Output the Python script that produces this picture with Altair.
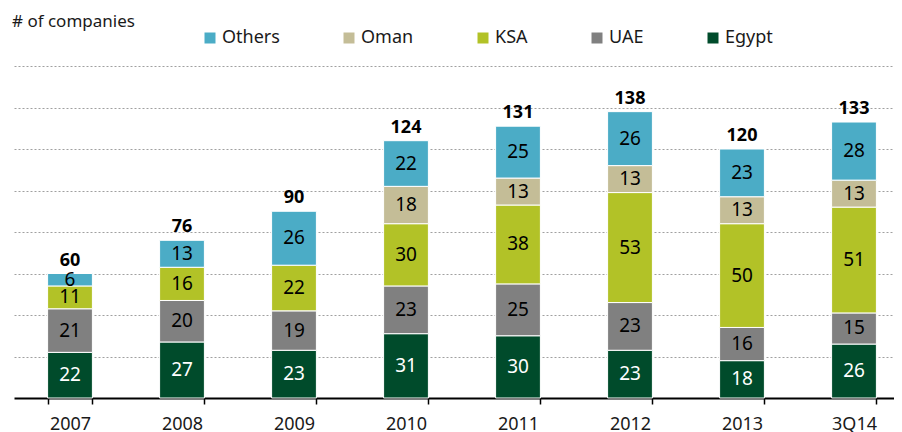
import altair as alt
import pandas as pd

years = ["2007", "2008", "2009", "2010", "2011", "2012", "2013", "3Q14"]
egypt = [22, 27, 23, 31, 30, 23, 18, 26]
uae = [21, 20, 19, 23, 25, 23, 16, 15]
ksa = [11, 16, 22, 30, 38, 53, 50, 51]
oman = [0, 0, 0, 18, 13, 13, 13, 13]
others = [6, 13, 26, 22, 25, 26, 23, 28]
totals = [60, 76, 90, 124, 131, 138, 120, 133]

series_names = ["Egypt", "UAE", "KSA", "Oman", "Others"]
series_vals = [egypt, uae, ksa, oman, others]
legend_order = ["Others", "Oman", "KSA", "UAE", "Egypt"]
colors = {"Others": "#4BACC6", "Oman": "#C4BD97", "KSA": "#B2C227",
          "UAE": "#808080", "Egypt": "#004B2B"}
grid_values = [20, 40, 60, 80, 100, 120, 140, 160]

rows = []
for k, (name, vals) in enumerate(zip(series_names, series_vals)):
    for y, v in zip(years, vals):
        rows.append({"year": y, "region": name, "value": v, "order": k,
                     "txt": "white" if name == "Egypt" else "black"})
df = pd.DataFrame(rows)
tot = pd.DataFrame({"year": years, "total": totals})

FONT = "Noto Sans"
xenc = alt.X("year:N", sort=years, title=None,
             scale=alt.Scale(range=[0, 896], paddingInner=0.6, paddingOuter=0.3),
             axis=alt.Axis(labelAngle=0, labelFontSize=18, labelColor="#1a1a1a",
                           labelFont=FONT, tickBand="extent", tickSize=6,
                           tickColor="black", tickWidth=1.5, domainColor="black",
                           domainWidth=2, labelPadding=11, grid=False))
yscale = alt.Scale(domain=[0, 160], nice=False)

base = alt.Chart(df).transform_filter("datum.value > 0").transform_stack(
    stack="value", groupby=["year"], sort=[alt.SortField("order")], as_=["y0", "y1"]
).transform_calculate(mid="(datum.y0 + datum.y1) / 2")

bars = base.mark_bar(stroke="white", strokeWidth=1).encode(
    x=xenc,
    y=alt.Y("y0:Q", scale=yscale, title=None,
            axis=alt.Axis(values=grid_values, labels=False, ticks=False, domain=False,
                          grid=True, gridColor="#A0A0A0", gridDash=[2, 2], gridWidth=1)),
    y2="y1:Q",
    color=alt.Color("region:N", scale=alt.Scale(domain=legend_order,
                                                range=[colors[r] for r in legend_order]),
                    legend=alt.Legend(title=None, orient="none", legendX=187, legendY=-37,
                                      direction="horizontal", symbolType="square",
                                      symbolSize=121, symbolStrokeWidth=0,
                                      labelFontSize=18, labelFont=FONT,
                                      labelColor="#1a1a1a", labelOffset=3,
                                      columnPadding=60)),
)

seg_labels = base.mark_text(fontSize=19, font=FONT, baseline="middle").encode(
    x=alt.X("year:N", sort=years),
    y=alt.Y("mid:Q", scale=yscale),
    text=alt.Text("value:Q"),
    color=alt.Color("txt:N", scale=None),
)

tot_labels = alt.Chart(tot).mark_text(fontSize=18, font=FONT, fontWeight="bold",
                                      baseline="bottom", dy=-4, color="black").encode(
    x=alt.X("year:N", sort=years),
    y=alt.Y("total:Q", scale=yscale),
    text="total:Q",
)

title = alt.Chart(pd.DataFrame({"t": ["# of companies"]})).mark_text(
    fontSize=17, font=FONT, align="left", baseline="alphabetic", color="#1a1a1a"
).encode(x=alt.value(-2), y=alt.value(-39), text="t:N")

chart = alt.layer(bars, seg_labels, tot_labels, title).properties(
    width=880, height=332,
    autosize=alt.AutoSizeParams(type="none"),
    padding={"left": 6, "top": 58, "right": 0, "bottom": 34},
).configure_view(stroke=None)

chart.save("out.html", embed_options={"renderer": "svg", "actions": False})
